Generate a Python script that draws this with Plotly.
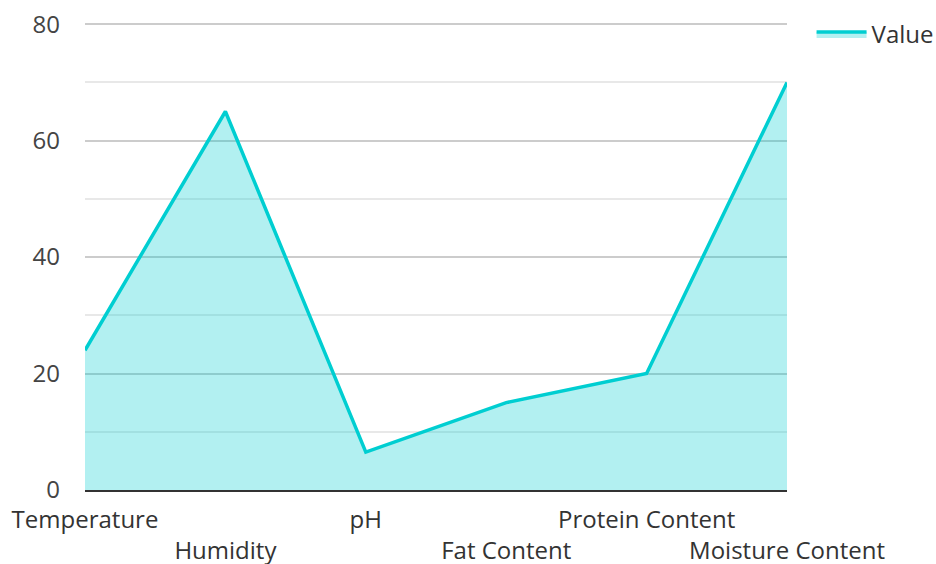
import plotly.graph_objects as go

categories = ["Temperature", "Humidity", "pH", "Fat Content", "Protein Content", "Moisture Content"]
values = [24, 65, 6.5, 15, 20, 70]
tick_labels = [c if i % 2 == 0 else "<br>" + c for i, c in enumerate(categories)]

fig = go.Figure()
fig.add_trace(go.Scatter(
    x=categories, y=values, name="Value", mode="lines",
    line=dict(color="#00CED1", width=3.5),
    fill="tozeroy", fillcolor="rgba(0,206,209,0.3)",
))

fig.update_layout(
    width=936, height=564,
    margin=dict(l=85, r=149, t=23, b=74, autoexpand=False),
    paper_bgcolor="white", plot_bgcolor="white",
    font=dict(family="Open Sans", size=24, color="#444"),
    showlegend=True,
    legend=dict(x=1.035, y=1.024, xanchor="left", yanchor="top", itemwidth=50,
                font=dict(size=24, color="#333"), bgcolor="rgba(0,0,0,0)"),
)
fig.update_xaxes(
    type="category", range=[0, 5], tickmode="array",
    tickvals=categories, ticktext=tick_labels, tickangle=0, automargin=False,
    showgrid=False, showline=True, linecolor="#333", linewidth=2,
    ticks="", ticklabelstandoff=7,
    tickfont=dict(size=24, color="#333"), zeroline=False,
)
fig.update_yaxes(
    range=[0, 80.2], tickvals=[0, 20, 40, 60, 80], showgrid=True, gridcolor="#cccccc", gridwidth=1.5,
    minor=dict(tickvals=[10, 30, 50, 70], showgrid=True, gridcolor="#e8e8e8", gridwidth=1.5),
    zeroline=False, showline=False, automargin=False,
    ticks="", ticklabelstandoff=24,
    tickfont=dict(size=24, color="#444"),
)

fig.write_html("out.html", config={"displayModeBar": False},
               post_script="document.body.style.margin='0';")
